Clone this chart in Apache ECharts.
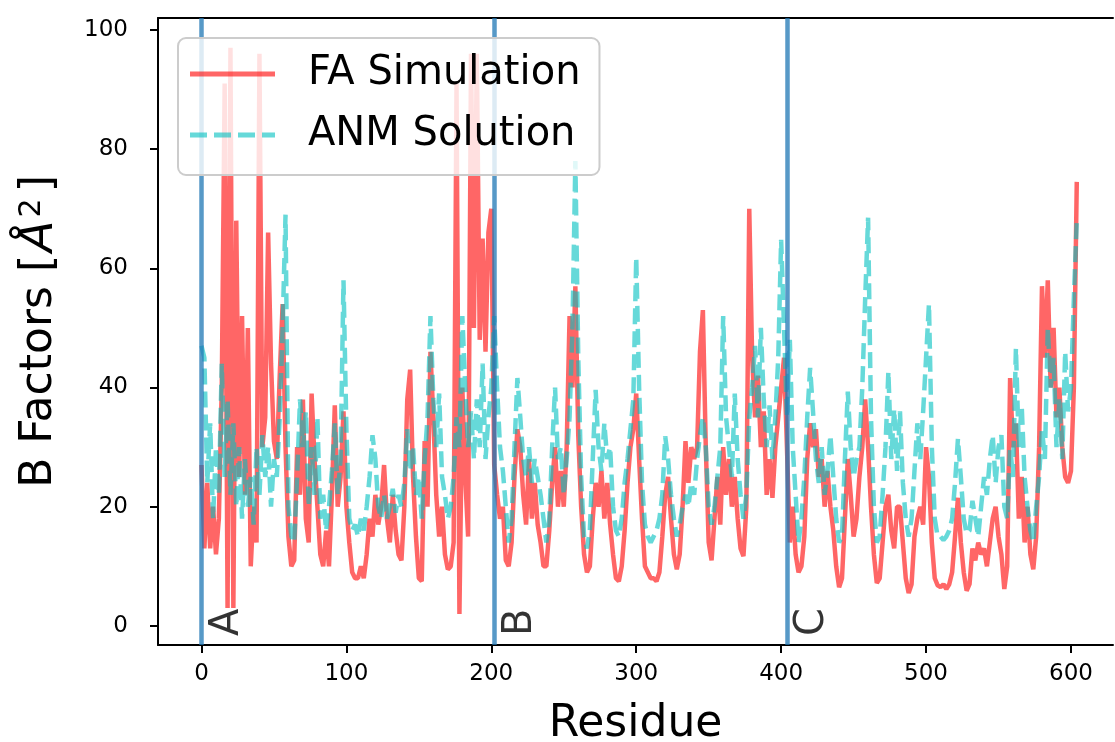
<!DOCTYPE html>
<html><head><meta charset="utf-8">
<script src="https://cdn.jsdelivr.net/npm/echarts@6/dist/echarts.min.js"></script>
<style>html,body{margin:0;padding:0;background:#fff}#chart{width:1115px;height:742px}</style>
</head><body><div id="chart"></div>
<script>
// residue spacing of the sampled values below
const residueStep = 2;
// FA Simulation B factors, residues 0,2,4,...,604
const faSimulation = [
27, 13, 24, 13, 20, 12, 18, 40, 91, 3,
97, 3, 68, 25, 52, 22, 50, 10, 20, 14,
96, 30, 35, 66, 44, 31, 28, 42, 54, 30,
15, 10, 11, 30, 22, 38, 18, 14, 39, 28,
20, 12, 10, 16, 10, 22, 37, 20, 25, 36,
20, 14, 9, 8, 8, 10, 8, 12, 18, 15,
22, 17, 20, 27, 18, 14, 22, 16, 12, 11,
20, 38, 43, 25, 15, 8, 7.5, 31, 20, 46,
35, 22, 15, 20, 12, 9.5, 10, 14, 91, 2,
40, 25, 15, 96, 50, 96, 48, 65, 46, 66,
70, 27, 22, 18, 20, 11, 10, 14, 25, 33,
30, 22, 17, 28, 18, 24, 17, 14, 10, 10,
16, 24, 30, 20, 26, 20, 30, 52, 40, 57,
32, 20, 12, 9, 10, 18, 24, 20, 26, 18,
24, 17, 12, 8, 7.5, 10, 16, 24, 30, 33,
39, 28, 18, 10, 9, 8, 8, 7.5, 9, 15,
22, 25, 18, 12, 9.5, 12, 20, 31, 24, 30,
28, 30, 46, 53, 30, 14, 11, 18, 25, 17,
30, 22, 28, 20, 25, 18, 13, 11.7, 20, 70,
45, 35, 42, 30, 36, 22, 28, 21.5, 30, 35,
40, 45, 30, 14, 20, 12, 9, 10, 15, 28,
34, 30, 33, 25, 28, 20, 26, 20, 16, 10,
6.5, 8, 18, 28, 22, 15, 18, 25, 30, 38,
30, 20, 12, 7.2, 8, 14, 20, 22, 16, 13,
20, 20, 14, 8, 5.5, 7, 15, 18, 20, 17,
30, 25, 14, 8, 6.8, 6.5, 7, 6.2, 7, 9,
15, 21.5, 14, 9, 5.9, 7, 13, 11, 14, 12,
13, 10, 14, 18, 20, 15, 12, 6.2, 10, 41.6,
30, 34, 18, 25, 14, 20, 12, 9.5, 15, 30,
57, 45, 58, 40, 50, 35, 40, 30, 25, 24,
26, 40, 74.5
];
// ANM Solution B factors, residues 0,2,4,...,604
const anmSolution = [
47, 45, 24, 34, 18, 30, 22, 44, 25, 38,
22, 34, 20, 30, 18, 28, 20, 25, 17, 30,
22, 32, 25, 30, 20, 28, 25, 35, 50, 69,
20, 15, 14, 25, 38, 30, 36, 20, 30, 22,
35, 18, 22, 16, 20, 26, 34, 22, 28, 58,
33, 18, 16, 17, 15, 18, 16, 20, 25, 32,
28, 20, 18, 22, 18, 20, 23, 19, 22, 20,
24, 33, 26, 30, 22, 25, 18, 28, 35, 52,
38, 30, 39, 25, 22, 18, 20, 25, 35, 30,
52, 40, 30, 36, 28, 38, 30, 44, 28, 35,
40, 52, 40, 30, 26, 20, 14, 18, 30, 41.6,
35, 28, 25, 30, 24, 28, 25, 22, 18, 14,
18, 30, 40, 28, 30, 22, 28, 35, 50, 78,
45, 25, 15, 13, 16, 28, 39.6, 30, 26, 34,
28, 30, 20, 16, 15, 18, 24, 28, 33, 38,
61.8, 40, 24, 17, 15, 14, 15, 16, 18, 22,
31.8, 28, 22, 18, 15, 17, 20, 22, 20, 24,
22, 28, 32, 35, 30, 20, 17, 20, 25, 30,
52, 35, 30, 25, 39, 28, 22, 18, 22, 35,
40, 47, 35, 50, 38, 30, 37, 28, 35, 45,
64.8, 50, 35, 48, 30, 22, 14, 18, 25, 35,
43.3, 36, 28, 24, 30, 22, 26, 32, 25, 18,
14, 15, 28, 39.3, 30, 25, 28, 30, 40, 55,
68.5, 35, 20, 14, 15, 22, 30, 42.7, 28, 36.4,
26, 36, 24, 18, 15, 18, 26, 34, 28, 36,
45, 54, 30, 18, 15, 15, 14.4, 15, 16, 18,
24, 31.4, 25, 18, 15.5, 16, 21, 18, 15, 20,
25, 22, 28, 32, 24, 30, 32, 20, 18, 30,
25, 46.6, 30, 37, 25, 20, 16, 14, 20, 25,
33, 28, 50, 40, 45, 30, 38, 28, 46, 36,
40, 55, 68
];
const chainStarts = [0, 202, 404];
const chainLabels = ['A', 'B', 'C'];
const xTicks = [0, 100, 200, 300, 400, 500, 600];
const yTicks = [0, 20, 40, 60, 80, 100];
const seriesNames = ['FA Simulation', 'ANM Solution'];

const toPairs = arr => arr.map((v, i) => [i * residueStep, v]);
const font = 'DejaVu Sans';
const solidIcon = 'path://M0,0H85V5H0Z';
const dashIcon = 'path://M0,0H17V5H0Z M24,0H41V5H24Z M48,0H65V5H48Z M72,0H85V5H72Z';
const chart = echarts.init(document.getElementById('chart'), null, {renderer: 'canvas'});
const option = {
  animation: false,
  backgroundColor: '#ffffff',
  grid: {left: 158, right: 2, top: 18, bottom: 97, containLabel: false, outerBoundsMode: 'none'},
  xAxis: [{
    type: 'value', min: -30, max: 629,
    axisLine: {show: true, onZero: false, lineStyle: {color: '#000', width: 2}},
    axisTick: {show: true, customValues: xTicks, length: 8, lineStyle: {color: '#000', width: 2}},
    axisLabel: {customValues: xTicks, fontFamily: font, fontSize: 23, color: '#000', margin: 18},
    splitLine: {show: false},
    name: 'Residue', nameLocation: 'middle', nameGap: 58,
    nameTextStyle: {fontFamily: font, fontSize: 44, color: '#000'}
  }, {
    type: 'value', position: 'top', min: -30, max: 629,
    axisLine: {show: true, onZero: false, lineStyle: {color: '#000', width: 2}},
    axisTick: {show: false}, axisLabel: {show: false}, splitLine: {show: false}
  }],
  yAxis: {
    type: 'value', min: -3.2, max: 102,
    axisLine: {show: true, onZero: false, lineStyle: {color: '#000', width: 2}},
    axisTick: {show: true, customValues: yTicks, length: 8, lineStyle: {color: '#000', width: 2}},
    axisLabel: {customValues: yTicks, fontFamily: font, fontSize: 23, color: '#000', margin: 30},
    splitLine: {show: false},
    name: 'B Factors [{it|Å}{sup|2}]', nameLocation: 'middle', nameGap: 95,
    nameTextStyle: {
      fontFamily: font, fontSize: 44, color: '#000',
      rich: {
        it: {fontFamily: font, fontSize: 46, fontStyle: 'italic', color: '#000', padding: [0, 2, 0, 3]},
        sup: {fontFamily: font, fontSize: 30, color: '#000', verticalAlign: 'top', padding: [0, 6, 16, 1]}
      }
    }
  },
  legend: {
    orient: 'vertical', left: 178, top: 38,
    padding: [16, 19, 20, 12],
    itemWidth: 85, itemHeight: 5, itemGap: 21,
    symbolKeepAspect: false,
    backgroundColor: 'rgba(255,255,255,0.8)',
    borderColor: '#cccccc', borderWidth: 2, borderRadius: 8,
    textStyle: {fontFamily: font, fontSize: 40, color: '#000', padding: [0, 0, 0, 28]},
    data: [{name: seriesNames[0], icon: solidIcon}, {name: seriesNames[1], icon: dashIcon}],
    z: 20
  },
  series: [{
    name: seriesNames[0], type: 'line', data: toPairs(faSimulation),
    symbol: 'none', color: 'rgba(255,0,0,0.6)',
    lineStyle: {color: 'rgba(255,0,0,0.6)', width: 4.5, type: 'solid'},
    z: 2
  }, {
    name: seriesNames[1], type: 'line', data: toPairs(anmSolution),
    symbol: 'none', color: 'rgba(0,191,191,0.6)',
    lineStyle: {color: 'rgba(0,191,191,0.6)', width: 4.5, type: [16, 7]},
    z: 3
  }, {
    name: 'chains', type: 'scatter', symbolSize: 1,
    itemStyle: {color: 'rgba(0,0,0,0)'},
    data: chainStarts.map((x, i) => ({value: [x, 0], name: chainLabels[i]})),
    label: {
      show: true, formatter: '{b}', rotate: 90, position: 'inside',
      align: 'left', verticalAlign: 'top', offset: [-10, 6],
      fontFamily: font, fontSize: 40, color: '#000'
    },
    markLine: {
      symbol: 'none', silent: true, label: {show: false},
      lineStyle: {color: 'rgba(31,119,180,0.75)', width: 4.5, type: 'solid'},
      data: chainStarts.map(x => ({xAxis: x}))
    },
    z: 5
  }]
};
chart.setOption(option);
</script></body></html>
